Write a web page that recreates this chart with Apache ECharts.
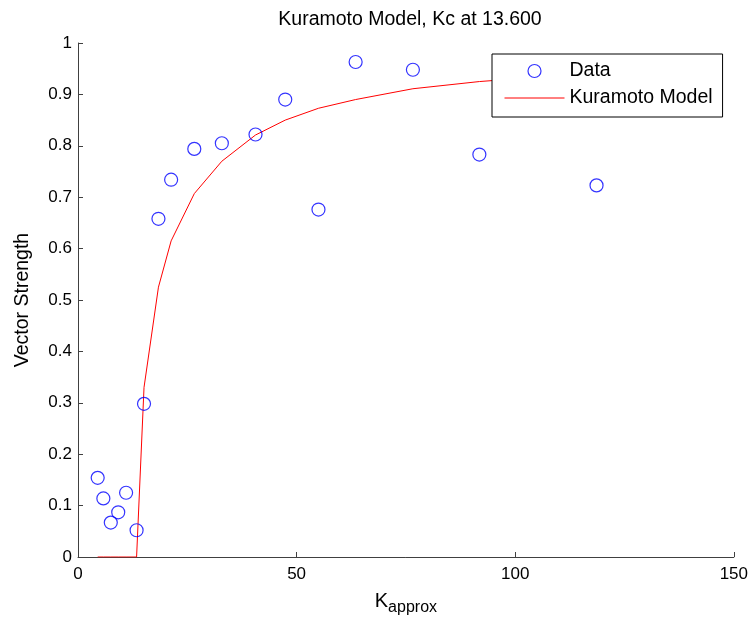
<!DOCTYPE html>
<html>
	<head>
		<meta charset="utf-8" />
		<title>Kuramoto Model</title>
		<script src="https://cdn.jsdelivr.net/npm/echarts@6/dist/echarts.min.js"></script>
		<style>
			html, body { margin: 0; padding: 0; background: #fff; }
			#chart { width: 751px; height: 622px; }
		</style>
	</head>
	<body>
		<div id="chart"></div>
		<script>
			// K values (x), measured vector strength and fitted model
			var kValues = [4.5, 5.8, 7.5, 9.2, 11.0, 13.4, 15.1, 18.4, 21.3, 26.6, 32.9, 40.6, 47.4, 55.0, 63.5, 76.6, 91.8, 118.6];
			var dataValues = [0.154, 0.114, 0.067, 0.087, 0.125, 0.052, 0.298, 0.658, 0.734, 0.794, 0.805, 0.822, 0.890, 0.676, 0.963, 0.948, 0.783, 0.723];
			var modelValues = [0, 0, 0, 0, 0, 0, 0.33, 0.525, 0.615, 0.707, 0.77, 0.821, 0.85, 0.873, 0.89, 0.911, 0.925, 0.942];

			var font = 'Liberation Sans, Arial, sans-serif';
			var chart = echarts.init(document.getElementById('chart'));

			var option = {
				backgroundColor: '#fff',
				animation: false,
				textStyle: { fontFamily: font },
				title: {
					text: 'Kuramoto Model, Kc at 13.600',
					left: 405,
					top: 5,
					textAlign: 'center',
					textStyle: { fontFamily: font, fontSize: 19.5, fontWeight: 'normal', color: '#000' }
				},
				legend: {
					orient: 'vertical',
					left: 492,
					top: 54,
					padding: [7, 10, 9, 12],
					itemWidth: 60,
					itemHeight: 13,
					itemGap: 7,
					borderColor: '#000',
					borderWidth: 1,
					backgroundColor: '#fff',
					textStyle: { fontFamily: font, fontSize: 19.5, color: '#000' },
					data: [
						{ name: 'Data', itemStyle: { color: 'rgba(0,0,0,0)', borderColor: '#0000ff', borderWidth: 1.2 } },
						{ name: 'Kuramoto Model', itemStyle: { opacity: 0 }, lineStyle: { color: '#ff0000', width: 1 } }
					]
				},
				grid: {
					left: 78,
					right: 16,
					top: 43,
					bottom: 65
				},
				xAxis: {
					type: 'value',
					min: 0,
					max: 150,
					interval: 50,
					name: 'K{sub|approx}',
					nameLocation: 'middle',
					nameGap: 30,
					nameTextStyle: {
						fontFamily: font, fontSize: 20, color: '#000',
						rich: { sub: { fontFamily: font, fontSize: 16, color: '#000', verticalAlign: 'bottom', padding: [13, 0, 0, 0] } }
					},
					axisLine: { lineStyle: { color: '#404040', width: 1 } },
					axisTick: { inside: true, length: 5, lineStyle: { color: '#404040' } },
					axisLabel: { fontFamily: font, fontSize: 17, color: '#000', margin: 9 },
					splitLine: { show: false }
				},
				yAxis: {
					type: 'value',
					min: 0,
					max: 1,
					interval: 0.1,
					name: 'Vector Strength',
					nameLocation: 'middle',
					nameGap: 45,
					nameTextStyle: { fontFamily: font, fontSize: 19.5, color: '#000' },
					axisLine: { lineStyle: { color: '#404040', width: 1 } },
					axisTick: { inside: true, length: 5, lineStyle: { color: '#404040' } },
					axisLabel: { fontFamily: font, fontSize: 17, color: '#000', margin: 6 },
					splitLine: { show: false }
				},
				series: [
					{
						name: 'Data',
						type: 'scatter',
						symbol: 'circle',
						symbolSize: 13,
						itemStyle: { color: 'rgba(0,0,0,0)', borderColor: '#0000ff', borderWidth: 1.2 },
						data: kValues.map(function (k, i) { return [k, dataValues[i]]; }),
						z: 3
					},
					{
						name: 'Kuramoto Model',
						type: 'line',
						symbol: 'none',
						showSymbol: false,
						lineStyle: { color: '#ff0000', width: 1 },
						itemStyle: { color: '#ff0000' },
						data: kValues.map(function (k, i) { return [k, modelValues[i]]; }),
						z: 2
					}
				]
			};
			chart.setOption(option);
		</script>
	</body>
</html>
